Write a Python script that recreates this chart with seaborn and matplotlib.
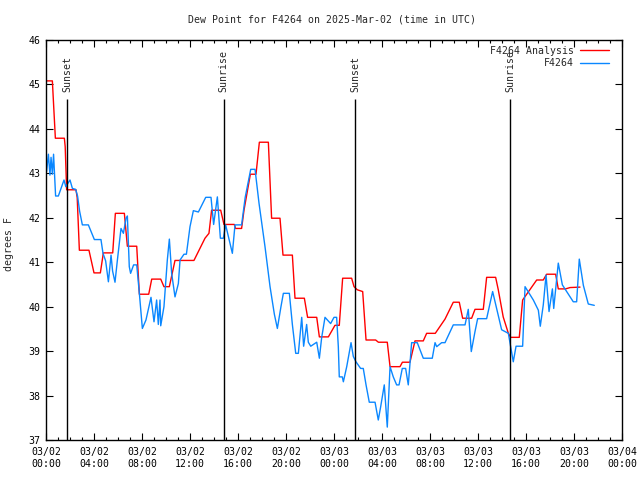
import numpy as np
import pandas as pd
import matplotlib
matplotlib.use("Agg")
import matplotlib.pyplot as plt
import matplotlib.dates as mdates
import seaborn as sns

# hours after 2025-03-02 00:00 UTC
analysis_hours = [0.0, 0.53, 0.65, 0.78, 1.53, 1.6, 1.72, 2.5, 2.6, 2.78, 3.58, 4.0, 4.53, 4.78,
                  5.56, 5.78, 6.53, 6.78, 7.56, 7.78, 8.56, 8.81, 9.56, 9.83, 10.28, 10.75, 12.33,
                  13.25, 13.58, 13.8, 14.56, 14.83, 15.69, 15.8, 16.3, 16.5, 17.03, 17.5, 17.78,
                  18.53, 18.8, 19.5, 19.75, 20.53, 20.75, 21.53, 21.8, 22.56, 22.78, 23.53, 24.08,
                  24.44, 24.72, 25.47, 25.67, 25.94, 26.39, 26.67, 27.47, 27.7, 28.44, 28.67, 29.5,
                  29.7, 30.33, 30.75, 31.44, 31.72, 32.44, 33.25, 33.94, 34.44, 34.72, 35.47, 35.75,
                  36.44, 36.72, 37.47, 37.69, 38.1, 38.53, 38.72, 39.44, 39.72, 40.89, 41.44, 41.72,
                  42.47, 42.69, 43.3, 43.67, 44.5]
analysis_vals = [45.08, 45.08, 44.46, 43.79, 43.79, 43.6, 42.63, 42.63, 42.45, 41.27, 41.27, 40.76,
                 40.76, 41.21, 41.21, 42.10, 42.10, 41.36, 41.36, 40.28, 40.28, 40.62, 40.62, 40.45,
                 40.45, 41.04, 41.04, 41.54, 41.65, 42.17, 42.17, 41.85, 41.85, 41.76, 41.76, 42.17,
                 42.98, 42.98, 43.70, 43.70, 41.99, 41.99, 41.16, 41.16, 40.19, 40.19, 39.76, 39.76,
                 39.32, 39.32, 39.58, 39.58, 40.64, 40.64, 40.45, 40.38, 40.34, 39.25, 39.25, 39.20,
                 39.20, 38.65, 38.65, 38.75, 38.75, 39.23, 39.23, 39.40, 39.40, 39.72, 40.10, 40.10,
                 39.74, 39.74, 39.94, 39.94, 40.66, 40.66, 40.38, 39.77, 39.40, 39.31, 39.31, 40.15,
                 40.60, 40.60, 40.73, 40.73, 40.40, 40.40, 40.43, 40.44]

obs_hours = [0.05, 0.2, 0.33, 0.42, 0.53, 0.63, 0.8, 1.03, 1.2, 1.5, 1.65, 2.0, 2.2, 2.47, 2.63,
             2.8, 3.03, 3.53, 4.03, 4.58, 4.75, 4.97, 5.2, 5.42, 5.55, 5.75, 5.95, 6.25, 6.45,
             6.67, 6.78, 6.86, 6.94, 7.05, 7.3, 7.56, 7.78, 8.03, 8.33, 8.75, 9.0, 9.22, 9.36,
             9.5, 9.56, 9.83, 10.11, 10.28, 10.47, 10.75, 11.03, 11.17, 11.5, 11.7, 12.0, 12.28,
             12.7, 13.31, 13.75, 13.97, 14.28, 14.53, 14.78, 14.97, 15.53, 15.75, 16.3, 16.6,
             17.06, 17.42, 17.75, 18.25, 18.67, 19.03, 19.28, 19.58, 19.78, 20.28, 20.53, 20.81,
             21.03, 21.31, 21.47, 21.72, 21.86, 22.06, 22.56, 22.78, 22.97, 23.25, 23.72, 24.0,
             24.22, 24.36, 24.44, 24.69, 24.78, 25.06, 25.42, 25.61, 25.83, 26.22, 26.44, 26.67,
             26.94, 27.42, 27.69, 27.89, 28.19, 28.44, 28.67, 28.94, 29.22, 29.42, 29.69, 29.97,
             30.19, 30.47, 30.94, 31.44, 32.19, 32.42, 32.56, 32.97, 33.25, 33.94, 34.92, 35.19,
             35.44, 35.75, 35.97, 36.72, 37.22, 37.97, 38.53, 38.72, 38.94, 39.17, 39.72, 39.92,
             40.61, 41.03, 41.19, 41.44, 41.67, 41.92, 42.2, 42.31, 42.56, 42.69, 43.03, 43.94,
             44.22, 44.44, 44.78, 45.19, 45.69]
obs_vals = [43.04, 43.43, 42.96, 43.36, 42.98, 43.43, 42.49, 42.49, 42.62, 42.85, 42.70, 42.85,
            42.66, 42.64, 42.49, 42.15, 41.84, 41.84, 41.51, 41.51, 41.2, 41.03, 40.56, 41.16,
            40.8, 40.55, 41.05, 41.76, 41.65, 41.99, 42.04, 41.5, 40.90, 40.75, 40.94, 40.94,
            40.3, 39.51, 39.70, 40.21, 39.66, 40.15, 39.6, 40.15, 39.57, 40.0, 41.05, 41.52,
            40.75, 40.22, 40.52, 41.05, 41.18, 41.18, 41.8, 42.16, 42.13, 42.46, 42.46, 41.85,
            42.47, 41.54, 41.54, 41.84, 41.20, 41.84, 41.84, 42.46, 43.09, 43.09, 42.33, 41.35,
            40.45, 39.83, 39.51, 40.0, 40.30, 40.30, 39.6, 38.95, 38.95, 39.76, 39.11, 39.6,
            39.2, 39.11, 39.2, 38.84, 39.3, 39.76, 39.62, 39.76, 39.76, 39.1, 38.42, 38.42,
            38.31, 38.65, 39.19, 38.88, 38.76, 38.61, 38.61, 38.24, 37.85, 37.85, 37.45, 37.75,
            38.24, 37.29, 38.65, 38.42, 38.24, 38.24, 38.61, 38.61, 38.24, 39.19, 39.19, 38.84,
            38.84, 39.19, 39.1, 39.19, 39.19, 39.59, 39.59, 39.94, 38.99, 39.44, 39.73, 39.73,
            40.34, 39.48, 39.40, 39.1, 38.76, 39.11, 39.11, 40.45, 40.15, 39.92, 39.56, 40.04,
            40.71, 39.89, 40.4, 39.96, 40.63, 40.98, 40.49, 40.11, 40.11, 41.07, 40.48, 40.06,
            40.03]

sun_hours = [1.78, 14.8, 25.78, 38.7]
sun_labels = ["Sunset", "Sunrise", "Sunset", "Sunrise"]

base = pd.Timestamp("2025-03-02 00:00")
analysis = pd.DataFrame({"time": base + pd.to_timedelta(analysis_hours, unit="h"),
                         "dewp": analysis_vals})
obs = pd.DataFrame({"time": base + pd.to_timedelta(obs_hours, unit="h"), "dewp": obs_vals})

FS = 7.1
sns.set_style("ticks")
plt.rcParams['font.family'] = ['DejaVu Sans Mono']
plt.rcParams['font.size'] = FS

fig = plt.figure(figsize=(6.4, 4.8), dpi=100)
ax = fig.add_axes([46 / 640, 40 / 480, 576 / 640, 400 / 480])

sns.lineplot(data=analysis, x="time", y="dewp", color="#ff0000", lw=1, label="F4264 Analysis",
             ax=ax, estimator=None)
sns.lineplot(data=obs, x="time", y="dewp", color="#0a87ff", lw=1, label="F4264",
             ax=ax, estimator=None)

# sunrise / sunset markers
for h, lab in zip(sun_hours, sun_labels):
    t = base + pd.Timedelta(hours=h)
    ax.vlines(t, 37, 44.67, color="black", lw=1)
    ax.text(t, 44.83, lab, rotation=90, ha="center", va="bottom", fontsize=FS)

ax.set_xlim(base, base + pd.Timedelta(hours=48))
ax.set_ylim(37, 46)
ax.set_yticks(np.arange(37, 47, 1))
ax.xaxis.set_major_locator(mdates.HourLocator(byhour=range(0, 24, 4)))
ax.xaxis.set_minor_locator(mdates.HourLocator())
ax.xaxis.set_major_formatter(mdates.DateFormatter("%m/%d\n%H:%M"))

ax.tick_params(which="both", direction="in", top=True, right=True, colors="black",
               labelsize=FS)
ax.tick_params(which="major", length=5, width=0.8)
ax.tick_params(which="minor", length=2.5, width=0.8)
ax.tick_params(axis="x", pad=5)
ax.tick_params(axis="y", pad=4)
for s in ax.spines.values():
    s.set_visible(True)
    s.set_color("black")
    s.set_linewidth(1)

ax.set_xlabel("")
ax.set_ylabel("degrees F", fontsize=FS)
ax.yaxis.set_label_coords(-0.056, 0.49)

ax.legend(loc="upper right", bbox_to_anchor=(0.986, 0.998), frameon=False, markerfirst=False,
          handlelength=2.9, handletextpad=0.7, labelspacing=0.25, borderpad=0, fontsize=FS)

fig.text(332 / 640, 1 - 20 / 480, "Dew Point for F4264 on 2025-Mar-02 (time in UTC)",
         ha="center", va="center", fontsize=FS)

fig.savefig("out.png", dpi=100)
